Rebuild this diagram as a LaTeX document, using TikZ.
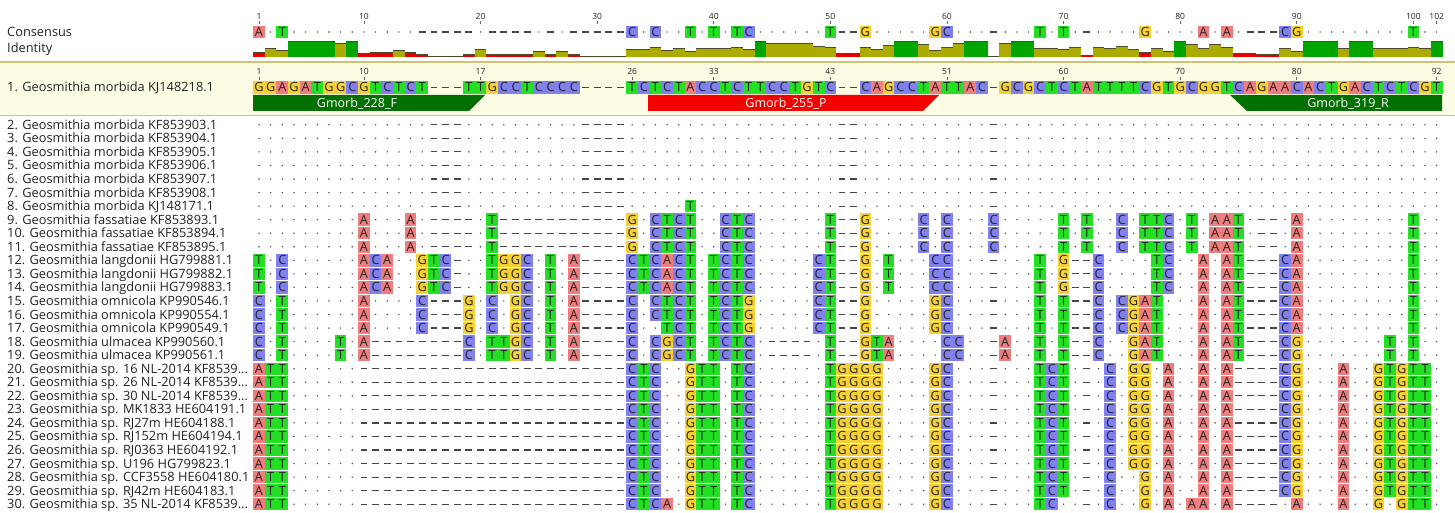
\documentclass[tikz,border=0pt]{standalone}
\usepackage{fontspec}
\setmainfont{Open Sans}
\definecolor{nA}{RGB}{240,125,125}
\definecolor{nC}{RGB}{128,128,238}
\definecolor{nG}{RGB}{247,209,52}
\definecolor{nT}{RGB}{36,224,36}
\definecolor{idg}{RGB}{0,165,0}
\definecolor{ido}{RGB}{172,172,0}
\definecolor{idr}{RGB}{228,0,0}
\definecolor{pgreen}{RGB}{0,112,0}
\definecolor{pred}{RGB}{245,0,0}
\definecolor{band}{RGB}{253,252,228}
\definecolor{bandline}{RGB}{205,195,115}
\definecolor{txt}{RGB}{35,35,35}
\definecolor{dotc}{RGB}{70,70,70}
\tikzset{
 seqtxt/.style={font=\fontsize{12.7}{13}\selectfont,text=txt,inner sep=0pt,anchor=base},
 seqdot/.style={fill=dotc},
 seqdash/.style={draw=dotc,line width=1.2},
 lab/.style={font=\fontsize{12.8}{14}\selectfont,text=txt,inner sep=0pt,anchor=base west},
 rnum/.style={font=\fontsize{8.5}{9}\selectfont,text=txt,inner sep=0pt,anchor=base},
 rtick/.style={draw=txt!70,line width=0.7},
 ptxt/.style={font=\fontsize{12.5}{13}\selectfont,text=white,inner sep=0pt,anchor=base},
 idtop/.style={draw=black!60!olive,line width=0.8},
}
\makeatletter
\def\rep#1#2{\ifnum#1>0 #2\expandafter\rep\expandafter{\the\numexpr#1-1\relax}{#2}\fi}
\newcount\sq@col
\newif\ifsqcount
\newif\ifsqref
\def\seqrow#1#2#3{\def\sq@id{#1}\edef\sq@y{#2}\global\sq@col=0
  \expandafter\sq@parse#3\relax}
\def\sq@parse#1{\ifx\relax#1\else\sq@cell#1\expandafter\sq@parse\fi}
\def\sq@inc#1{\edef\sq@key{sq@n@#1@\the\sq@col}%
  \expandafter\ifx\csname\sq@key\endcsname\relax
    \expandafter\xdef\csname\sq@key\endcsname{1}%
  \else
    \expandafter\xdef\csname\sq@key\endcsname{\the\numexpr\csname\sq@key\endcsname+1\relax}%
  \fi}
\def\sq@cell#1{%
  \global\advance\sq@col by 1
  \pgfmathsetmacro\sq@x{259+(\the\sq@col-1)*11.66}%
  \if.#1%
    \fill[seqdot] (\sq@x,\sq@y) circle[radius=0.8];%
    \ifsqcount\edef\sq@nt{\csname sq@ref@\the\sq@col\endcsname}\sq@inc\sq@nt\fi
  \else\if-#1%
    \draw[seqdash] (\sq@x-3.4,\sq@y) -- (\sq@x+3.4,\sq@y);%
  \else
    \fill[n#1] (\sq@x-5.83,\sq@y-6.2) rectangle (\sq@x+5.83,\sq@y+6.2);%
    \node[seqtxt] (s\sq@id c\the\sq@col) at (\sq@x,\sq@y+4.5) {#1};%
    \ifsqref\expandafter\xdef\csname sq@ref@\the\sq@col\endcsname{#1}\fi
    \ifsqcount\sq@inc{#1}\fi
  \fi\fi}
\def\sq@get#1#2{\ifcsname sq@n@#1@#2\endcsname\csname sq@n@#1@#2\endcsname\else0\fi}
\newcommand\idbars{%
 \foreach \c in {1,...,102}{%
  \edef\nA{\sq@get{A}{\c}}\edef\nC{\sq@get{C}{\c}}%
  \edef\nG{\sq@get{G}{\c}}\edef\nT{\sq@get{T}{\c}}%
  \edef\sm{\the\numexpr\nA*(\nA-1)+\nC*(\nC-1)+\nG*(\nG-1)+\nT*(\nT-1)\relax}%
  \edef\ngp{\the\numexpr30-\nA-\nC-\nG-\nT\relax}%
  \edef\dn{\the\numexpr870-\ngp*(\ngp-1)\relax}%
  \ifnum\dn>0 \pgfmathsetmacro\hh{15.8*\sm/\dn}\else\def\hh{0}\fi
  \def\bc{idr}%
  \ifnum\numexpr10*\sm\relax<\numexpr3*\dn\relax\else\def\bc{ido}\fi
  \ifnum\sm=\dn\ifnum\dn>0 \def\bc{idg}\fi\fi
  \pgfmathsetmacro\xl{253.17+(\c-1)*11.66}%
  \fill[\bc] (\xl,56.8) rectangle ++(11.66,-\hh);
  \draw[idtop] (\xl,56.8-\hh) -- ++(11.66,0);
 }}
\makeatother
\newcommand\drow[3]{\pgfmathsetmacro\yy{124.8+(#1-2)*13.55}%
  \seqrow{#1}{\yy}{#2}%
  \node[lab] (lab#1) at (7,\yy+4.5) {#1. Geosmithia #3};}
% sequences
\edef\sR{GGAGATGGCGTCTCT---TTGCCTCCCC----TCTCTACCTCTTCCTGTC--CAGCCTATTAC-GCGCTCTATTTTCGTGCGGTCAGAACACTGACTCTCGT}
\edef\sM{\rep{15}{.}---\rep{10}{.}----\rep{18}{.}--\rep{11}{.}-\rep{38}{.}}
\edef\sMe{\rep{15}{.}---\rep{10}{.}----\rep{5}{.}T\rep{12}{.}--\rep{11}{.}-\rep{38}{.}}
\edef\sF{\rep{9}{.}A...A.----.T\rep{11}{-}G.CTCT..CTC\rep{6}{.}T--G....C.C...C.....T.T..C.TTC.T.AAT.--.A\rep{9}{.}T..}
\edef\sL{T.C\rep{6}{.}ACA..GTC-..TGGC.T.A----CTCACT.TCTC.....CT--G.T...CC...-...T.G--C....TC..A.AT---CA\rep{9}{.}T..}
\edef\sO{C.T\rep{6}{.}A....C---G.C.GC.T.A----C.CTCT.TCTG.....CT--G.....GC...-...T.T--C.CGAT...A.AT---CA\rep{9}{.}T..}
\edef\sOb{C.T\rep{6}{.}A....C---G.C.GC.T.A----C..TCT.TCTG.....CT--G.....GC...-...T.T--C.CGAT...A.AT---CA\rep{9}{.}T..}
\edef\sU{C.T....T.A\rep{8}{-}C.TTGC.T.A----C.CGCT.TCTC.----.T--GTA....CC..-A..T.T--C..GAT...A.AT---CG\rep{7}{.}T.T..}
\edef\sS{ATT\rep{6}{.}\rep{23}{-}CTC..GTT.TC\rep{6}{.}TGGGG....GC...-...TCT.-.C.GG.A..A.A----CG...A..GTGTT.}
\edef\sSb{ATT\rep{6}{.}\rep{23}{-}CTC..GTT.TC\rep{6}{.}TGGGG....GC...-...TCT.-.C..G.A..A.A----CG...A..GTGTT.}
\edef\sSc{ATT\rep{6}{.}\rep{23}{-}CTCA.GTT.TC\rep{6}{.}TGGGG....GC...-...TC..-.C..G.A.AA.A----.A...A..G.GTT.}
\edef\sCons{A.T\rep{11}{.}-----.----.-.-----C.C..T.T.TC\rep{6}{.}T--G.....GC...-...T.T.-....G....A.A.---CG\rep{9}{.}T..}
\begin{document}
\begin{tikzpicture}[x=1pt,y=-1pt]
\useasboundingbox (0,0) rectangle (1455,513);
\fill[white] (0,0) rectangle (1455,513);
% reference band
\fill[band] (0,62) rectangle (1455,115.5);
\draw[bandline,line width=1.5] (0,62) -- (1455,62);
\draw[bandline,line width=1.5] (0,115.5) -- (1455,115.5);
% consensus ruler
\foreach \c/\l in {1/1,10/10,20/20,30/30,40/40,50/50,60/60,70/70,80/80,90/90,100/100,102/102}{
  \pgfmathsetmacro\xx{259+(\c-1)*11.66}
  \node[rnum] (cr\c) at (\xx,19.5) {\l};
  \draw[rtick] (\xx,21.5) -- (\xx,24.5);
}
% reference ruler
\foreach \c/\l in {1/1,10/10,20/17,33/26,40/33,50/43,60/51,70/60,80/70,90/80,102/92}{
  \pgfmathsetmacro\xx{259+(\c-1)*11.66}
  \node[rnum] (rr\c) at (\xx,75) {\l};
  \draw[rtick] (\xx,77) -- (\xx,80);
}
\node[lab] (labcons) at (7,36.5) {Consensus};
\node[lab] (labid) at (7,52.5) {Identity};
\sqcountfalse\sqreffalse
\seqrow{0}{32}{\sCons}
% reference row
\sqcounttrue\sqreftrue
\seqrow{1}{87.5}{\sR}
\node[lab] (lab1) at (7,92) {1. Geosmithia morbida KJ148218.1};
\sqreffalse
% primers
\fill[pgreen] (253,95) -- (485,95) -- (469,111) -- (253,111) -- cycle;
\node[ptxt] (p228) at (357,107.5) {Gmorb\_228\_F};
\fill[pred] (648,95) -- (939,95) -- (923,111) -- (648,111) -- cycle;
\node[ptxt] (p255) at (786,107.5) {Gmorb\_255\_P};
\fill[pgreen] (1230,95) -- (1442,95) -- (1442,111) -- (1247,111) -- cycle;
\node[ptxt] (p319) at (1348,107.5) {Gmorb\_319\_R};
% rows
\drow{2}{\sM}{morbida KF853903.1}
\drow{3}{\sM}{morbida KF853904.1}
\drow{4}{\sM}{morbida KF853905.1}
\drow{5}{\sM}{morbida KF853906.1}
\drow{6}{\sM}{morbida KF853907.1}
\drow{7}{\sM}{morbida KF853908.1}
\drow{8}{\sMe}{morbida KJ148171.1}
\drow{9}{\sF}{fassatiae KF853893.1}
\drow{10}{\sF}{fassatiae KF853894.1}
\drow{11}{\sF}{fassatiae KF853895.1}
\drow{12}{\sL}{langdonii HG799881.1}
\drow{13}{\sL}{langdonii HG799882.1}
\drow{14}{\sL}{langdonii HG799883.1}
\drow{15}{\sO}{omnicola KP990546.1}
\drow{16}{\sO}{omnicola KP990554.1}
\drow{17}{\sOb}{omnicola KP990549.1}
\drow{18}{\sU}{ulmacea KP990560.1}
\drow{19}{\sU}{ulmacea KP990561.1}
\drow{20}{\sS}{sp. 16 NL-2014 KF8539...}
\drow{21}{\sS}{sp. 26 NL-2014 KF8539...}
\drow{22}{\sS}{sp. 30 NL-2014 KF8539...}
\drow{23}{\sS}{sp. MK1833 HE604191.1}
\drow{24}{\sS}{sp. RJ27m HE604188.1}
\drow{25}{\sS}{sp. RJ152m HE604194.1}
\drow{26}{\sS}{sp. RJ0363 HE604192.1}
\drow{27}{\sS}{sp. U196 HG799823.1}
\drow{28}{\sSb}{sp. CCF3558 HE604180.1}
\drow{29}{\sSb}{sp. RJ42m HE604183.1}
\drow{30}{\sSc}{sp. 35 NL-2014 KF8539...}
% identity graph
\idbars
\end{tikzpicture}
\end{document}
